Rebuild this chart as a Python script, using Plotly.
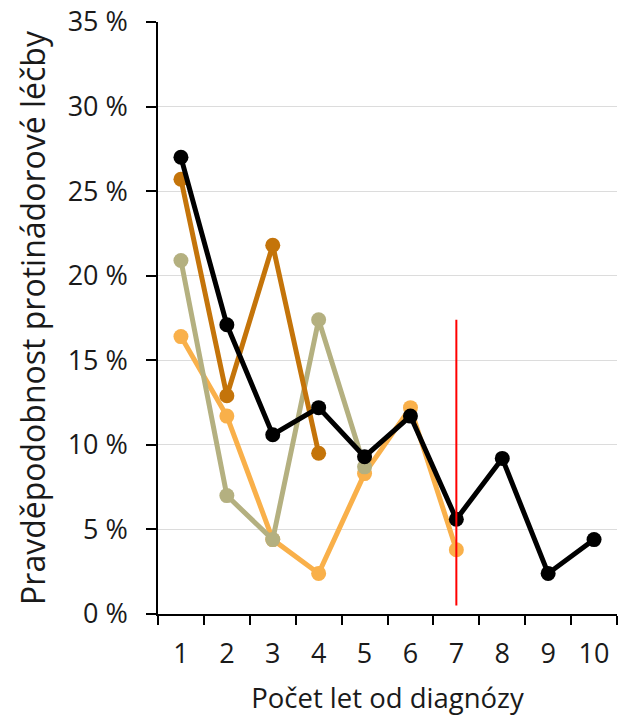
import plotly.graph_objects as go

years = ["1", "2", "3", "4", "5", "6", "7", "8", "9", "10"]
light_orange = [16.4, 11.7, 4.4, 2.4, 8.3, 12.2, 3.8]
khaki = [20.9, 7.0, 4.4, 17.4, 8.7]
dark_orange = [25.7, 12.9, 21.8, 9.5]
black = [27.0, 17.1, 10.6, 12.2, 9.3, 11.7, 5.6, 9.2, 2.4, 4.4]
marker_x = ["7", "7"]
marker_y = [0.5, 17.4]
y_tick_vals = [0, 5, 10, 15, 20, 25, 30, 35]
y_tick_text = ["0 %", "5 %", "10 %", "15 %", "20 %", "25 %", "30 %", "35 %"]

series = [
    (light_orange, "#F9B04A"),
    (khaki, "#B4B080"),
    (dark_orange, "#C4740A"),
    (black, "#000000"),
]

fig = go.Figure()
for vals, col in series:
    fig.add_trace(go.Scatter(
        x=years[:len(vals)], y=vals, mode="lines+markers",
        line=dict(color=col, width=5), marker=dict(color=col, size=15),
        showlegend=False, hoverinfo="skip"))

fig.add_trace(go.Scatter(x=marker_x, y=marker_y, mode="lines",
                         line=dict(color="#FF0000", width=2),
                         showlegend=False, hoverinfo="skip"))

font = "'Open Sans', sans-serif"
fig.update_layout(
    width=618, height=716,
    margin=dict(l=158, r=1, t=22, b=102),
    paper_bgcolor="white", plot_bgcolor="white",
    font=dict(family=font, color="#1a1a1a", size=27),
    xaxis=dict(
        type="category", categoryorder="array", categoryarray=years,
        range=[-0.5, 9.5], tickson="boundaries", automargin=False,
        ticks="outside", ticklen=9, tickwidth=1.5, tickcolor="black",
        showline=True, linecolor="black", linewidth=2,
        showgrid=False, zeroline=False,
        tickfont=dict(size=27), ticklabelstandoff=15,
        title=dict(text="Počet let od diagnózy", font=dict(size=27.5), standoff=20),
    ),
    yaxis=dict(
        range=[0, 35], tickvals=y_tick_vals, ticktext=y_tick_text,
        automargin=False,
        ticks="outside", ticklen=10, tickwidth=1.5, tickcolor="black",
        showline=True, linecolor="black", linewidth=1.5,
        showgrid=True, gridcolor="#dcdcdc", gridwidth=1,
        zeroline=False,
        tickfont=dict(size=27), ticklabelstandoff=13,
        title=dict(text="Pravděpodobnost protinádorové léčby", font=dict(size=32), standoff=12),
    ),
)

fig.write_html("out.html", config={"displayModeBar": False},
               post_script="document.body.style.margin='0';document.body.style.overflow='hidden';")
